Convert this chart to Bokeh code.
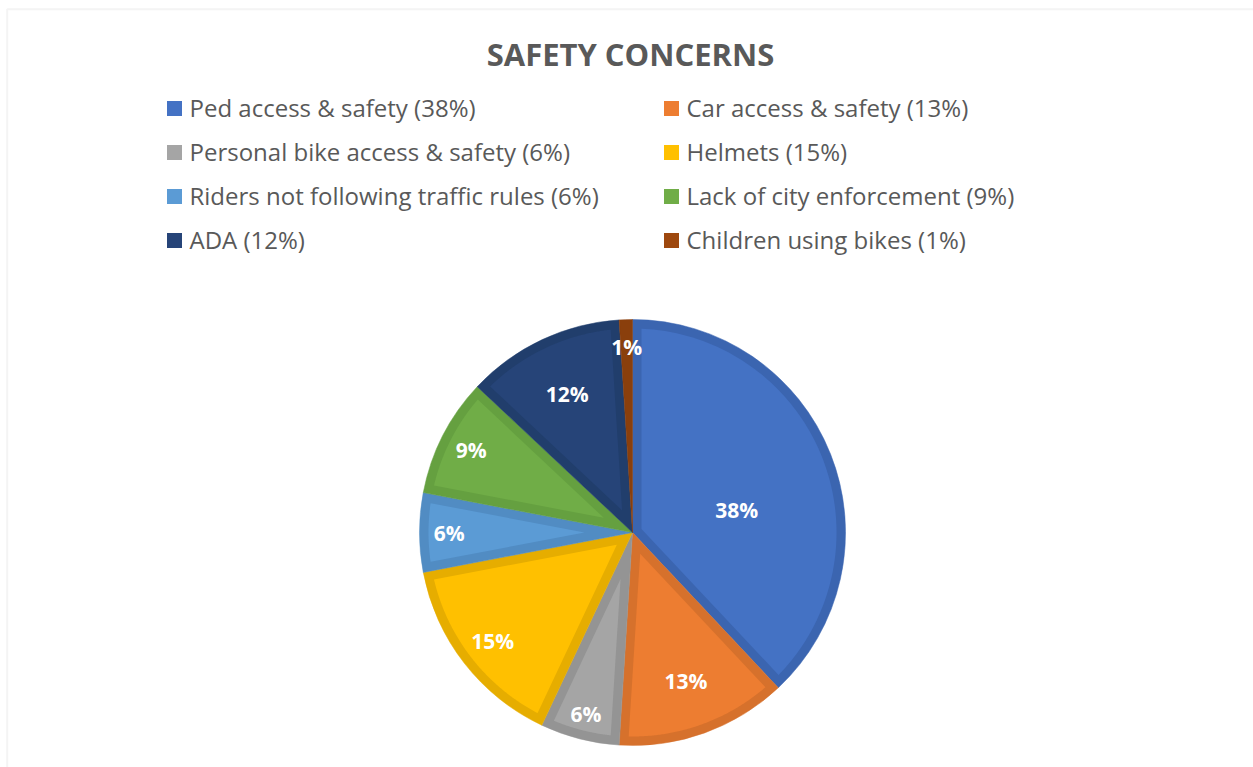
import numpy as np
from bokeh.plotting import figure
from bokeh.models import BoxAnnotation, ColumnDataSource, Range1d
from bokeh.core.properties import value
from bokeh.embed import file_html
from bokeh.resources import INLINE

# ---- data ----
title_text = "SAFETY CONCERNS"
categories = [
    "Ped access & safety",
    "Car access & safety",
    "Personal bike access & safety",
    "Helmets",
    "Riders not following traffic rules",
    "Lack of city enforcement",
    "ADA",
    "Children using bikes",
]
percents = [38, 13, 6, 15, 6, 9, 12, 1]
colors = ["#4472C4", "#ED7D31", "#A5A5A5", "#FFC000", "#5B9BD5", "#70AD47", "#264478", "#9E480E"]
border_colors = ["#3B65B0", "#D6712C", "#949494", "#E6AD00", "#518CC3", "#65A040", "#213E6C", "#8A3F0C"]

# ---- style / layout ----
W, H = 1253, 767
FONT = "Open Sans"
TEXT_GRAY = "#595959"
cx, cy, R = 632, H - 532, 213
BORDER = 9
label_radius = [0.50, 0.74, 0.88, 0.83, 0.86, 0.85, 0.72, 0.87]
label_pos = [0.57, 0.5, 0.5, 0.5, 0.5, 0.5, 0.5, 0.5]   # position within slice (0..1)

p = figure(width=W, height=H, output_backend="svg", toolbar_location=None,
           x_range=Range1d(0, W), y_range=Range1d(0, H),
           x_axis_location=None, y_axis_location=None, min_border=0,
           outline_line_color=None, background_fill_color="white",
           border_fill_color="white")
p.grid.visible = False

# chart border (left & top visible)
p.add_layout(BoxAnnotation(left=6.7, right=W + 200, top=H - 8.7, bottom=-200,
                           fill_alpha=0, line_color="#D9D9D9", line_width=2))

# title
p.text(x=[630], y=[H - 53], text=[title_text], text_align="center", text_baseline="middle",
       text_font=value(FONT), text_font_style="bold", text_font_size="31px",
       text_color=TEXT_GRAY)

# ---- pie ----
frac = np.array(percents, dtype=float) / sum(percents)
cum_end = np.cumsum(frac)
cum_start = cum_end - frac
start = np.pi / 2 - 2 * np.pi * cum_end
end = np.pi / 2 - 2 * np.pi * cum_start

src = ColumnDataSource(dict(start=start, end=end, dark=border_colors, col=colors))
p.wedge(x=cx, y=cy, radius=R, start_angle="start", end_angle="end",
        fill_color="dark", line_color="dark", line_width=0.5, source=src)

# inner lighter fill (inset by BORDER)
xs, ys, fills = [], [], []
for a0, a1, c in zip(start, end, colors):
    h = (a1 - a0) / 2
    b = (a0 + a1) / 2
    if np.sin(h) <= 0:
        continue
    dv = BORDER / np.sin(h)
    ri = R - BORDER
    da = np.arcsin(BORDER / ri)
    if dv >= ri or a1 - da <= a0 + da:
        continue
    arc = np.linspace(a0 + da, a1 - da, 120)
    px = [cx + dv * np.cos(b)] + list(cx + ri * np.cos(arc))
    py = [cy + dv * np.sin(b)] + list(cy + ri * np.sin(arc))
    xs.append(px); ys.append(py); fills.append(c)
p.patches(xs=xs, ys=ys, fill_color=fills, line_color=None)

# data labels
lp = np.array(label_pos)
ang = end - lp * (end - start)
lx = cx + np.array(label_radius) * R * np.cos(ang)
ly = cy + np.array(label_radius) * R * np.sin(ang)
p.text(x=list(lx), y=list(ly), text=[f"{v}%" for v in percents],
       text_align="center", text_baseline="middle", text_font=value(FONT),
       text_font_style="bold", text_font_size="21px", text_color="white")

# ---- legend ----
col_x = [174, 671]
row_y0, row_dy = 108, 44
sq_x = [col_x[i % 2] for i in range(len(categories))]
sq_y = [H - (row_y0 + row_dy * (i // 2)) for i in range(len(categories))]
p.scatter(x=sq_x, y=sq_y, marker="square", size=15, fill_color=colors, line_color=None)
p.text(x=[x + 15 for x in sq_x], y=[y + 1 for y in sq_y],
       text=[f"{c} ({v}%)" for c, v in zip(categories, percents)],
       text_align="left", text_baseline="middle", text_font=value(FONT),
       text_font_size="24px", text_color=TEXT_GRAY)

open("out.html", "w").write(file_html(p, INLINE))
